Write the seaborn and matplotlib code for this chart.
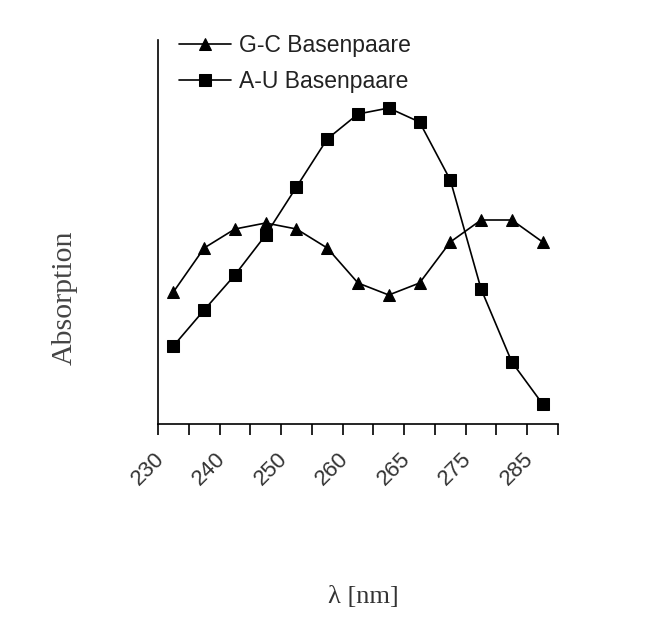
import matplotlib
matplotlib.use("Agg")
import matplotlib.pyplot as plt
import matplotlib.transforms as mtransforms
import seaborn as sns
import pandas as pd
import numpy as np

# 13 measuring points on a category axis, every second one is labelled
tick_labels = ["230", "240", "250", "260", "265", "275", "285"]
gc_values = [13.2, 17.6, 19.5, 20.1, 19.5, 17.6, 14.1, 12.9, 14.1, 18.2, 20.4, 20.4, 18.2]
au_values = [7.8, 11.4, 14.9, 18.9, 23.7, 28.5, 31.0, 31.6, 30.2, 24.4, 13.5, 6.2, 2.0]

pos = np.arange(len(gc_values))
df = pd.DataFrame({
    "pos": np.concatenate([pos, pos]),
    "absorption": gc_values + au_values,
    "serie": ["G-C Basenpaare"] * len(gc_values) + ["A-U Basenpaare"] * len(au_values),
})

sns.set_style("white")
plt.rcParams["font.family"] = ["Liberation Sans", "DejaVu Sans"]

fig = plt.figure(figsize=(6.55, 6.18), dpi=100)
ax = fig.add_axes([158 / 655, 1 - 424 / 618, 400 / 655, 384 / 618])

sns.lineplot(data=df, x="pos", y="absorption", hue="serie", style="serie",
             markers={"G-C Basenpaare": "^", "A-U Basenpaare": "s"},
             dashes=False, palette=["black", "black"], markersize=9,
             linewidth=1.2, markeredgecolor="black", ax=ax)

ax.set_xlim(-0.5, 12.5)
ax.set_ylim(0, 38.4)
ax.set_yticks([])
ax.set_xticks(pos[::2])
ax.set_xticklabels(tick_labels, rotation=45, ha="right", rotation_mode="anchor",
                   fontsize=16, color="#333333")
ax.set_xticks(np.arange(-0.5, 13, 1), minor=True)
ax.tick_params(axis="x", which="major", length=0, pad=14)
ax.tick_params(axis="x", which="minor", length=8, width=1.2, color="black", bottom=True, direction="out")
shift = mtransforms.ScaledTranslation(-0.2, -0.05, fig.dpi_scale_trans)
for lab in ax.get_xticklabels():
    lab.set_transform(lab.get_transform() + shift)
for s in ["top", "right"]:
    ax.spines[s].set_visible(False)
for s in ["left", "bottom"]:
    ax.spines[s].set_color("black")
    ax.spines[s].set_linewidth(1.2)

ax.set_xlabel("")
ax.set_ylabel("")
fig.text(65 / 655, 1 - 298 / 618, "Absorption", rotation=90, ha="center", va="center",
         family=["Liberation Serif"], fontsize=21.5, color="#444444")
fig.text(363 / 655, 1 - 597 / 618, "λ [nm]", ha="center", va="center",
         family=["Liberation Serif", "DejaVu Serif"], fontsize=19, color="#333333")

leg = ax.legend(title=None, frameon=False, loc="upper left",
                bbox_to_anchor=(158 / 655, 1 - 13 / 618), bbox_transform=fig.transFigure,
                fontsize=16.5, handlelength=2.3, handletextpad=0.35, labelspacing=0.6)
for t in leg.get_texts():
    t.set_color("#222222")

fig.savefig("out.png", dpi=100)
